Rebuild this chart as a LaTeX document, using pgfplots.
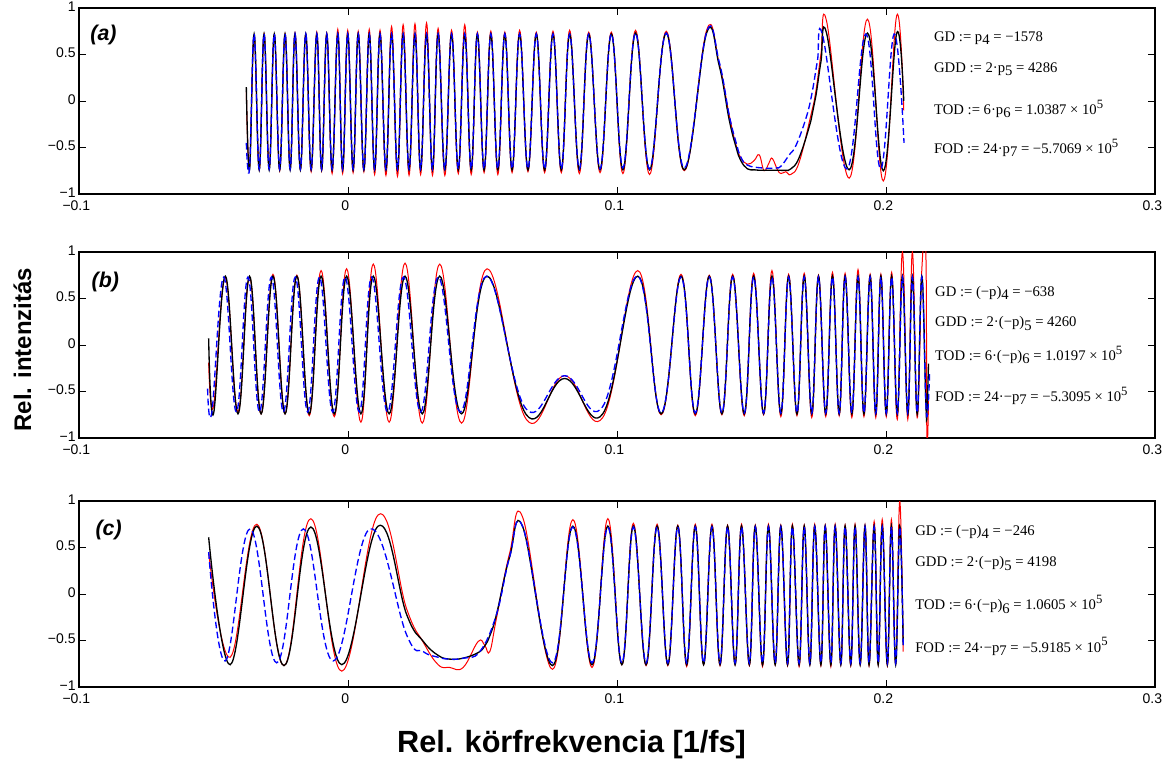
\documentclass[border=0pt]{standalone}
\usepackage{fontspec}
\setmainfont{Liberation Sans}
\newfontfamily\tnr{Liberation Serif}
\usepackage{pgfplots}
\pgfplotsset{compat=1.18}
\usepackage{pgfplotstable}

\newcommand\subx[1]{\raisebox{-0.5ex}{#1}}
\newcommand\supx[1]{\raisebox{0.95ex}{\fontsize{9.5}{10}\selectfont #1}}

% ---------- panel (a): black (k) and red (r) ----------
\pgfplotstableread{
x k r
-0.0378 0.15 0.10
-0.0366 -0.74 -0.72
-0.0349 0.72 0.70
-0.0330 -0.74 -0.74
-0.0312 0.72 0.72
-0.0293 -0.74 -0.72
-0.0274 0.72 0.71
-0.0254 -0.74 -0.75
-0.0234 0.72 0.72
-0.0215 -0.74 -0.73
-0.0197 0.72 0.73
-0.0177 -0.74 -0.74
-0.0157 0.72 0.72
-0.0137 -0.74 -0.76
-0.0116 0.72 0.74
-0.0098 -0.74 -0.75
-0.0079 0.72 0.73
-0.0059 -0.74 -0.78
-0.0038 0.72 0.77
-0.0020 -0.74 -0.78
-0.0001 0.72 0.76
0.0019 -0.74 -0.77
0.0038 0.72 0.75
0.0059 -0.74 -0.76
0.0079 0.72 0.77
0.0099 -0.74 -0.79
0.0119 0.72 0.76
0.0141 -0.74 -0.80
0.0162 0.72 0.80
0.0184 -0.74 -0.81
0.0205 0.72 0.82
0.0227 -0.74 -0.80
0.0249 0.72 0.83
0.0270 -0.74 -0.79
0.0292 0.72 0.84
0.0314 -0.74 -0.80
0.0335 0.72 0.78
0.0360 -0.74 -0.80
0.0385 0.72 0.76
0.0410 -0.74 -0.78
0.0434 0.72 0.82
0.0458 -0.74 -0.79
0.0481 0.72 0.74
0.0506 -0.74 -0.77
0.0531 0.72 0.75
0.0557 -0.74 -0.79
0.0583 0.72 0.74
0.0610 -0.74 -0.77
0.0638 0.72 0.76
0.0669 -0.74 -0.76
0.0700 0.72 0.74
0.0731 -0.74 -0.77
0.0762 0.72 0.75
0.0793 -0.74 -0.77
0.0824 0.72 0.76
0.0860 -0.74 -0.78
0.0895 0.72 0.74
0.0937 -0.74 -0.77
0.0979 0.72 0.74
0.1022 -0.74 -0.78
0.1069 0.73 0.76
0.1121 -0.74 -0.79
0.1183 0.73 0.75
0.1250 -0.74 -0.75
0.1333 0.73 0.76
0.1380 0.38 0.40
0.1417 -0.20 -0.15
0.1443 -0.50 -0.48
0.1460 -0.64 -0.61
0.1485 -0.73 -0.68
0.1510 -0.74 -0.64
0.1529 -0.745 -0.58
0.1547 -0.745 -0.75
0.1566 -0.745 -0.66
0.1578 -0.745 -0.62
0.1603 -0.745 -0.77
0.1628 -0.745 -0.76
0.1646 -0.73 -0.79
0.1677 -0.61 -0.66
0.1721 -0.21 -0.15
0.1739 0.05 0.10
0.1758 0.42 0.50
0.1779 0.73 0.86
0.1863 -0.74 -0.83
0.1931 0.73 0.88
0.1990 -0.75 -0.86
0.2040 0.73 0.92
0.2066 0.00 -0.10
}\tabA

\pgfplotstableread{
x y
-0.0378 -0.45
-0.0366 -0.72
-0.0349 0.72
-0.0330 -0.73
-0.0312 0.72
-0.0293 -0.73
-0.0274 0.72
-0.0254 -0.73
-0.0234 0.72
-0.0215 -0.73
-0.0197 0.72
-0.0177 -0.73
-0.0157 0.72
-0.0137 -0.73
-0.0116 0.72
-0.0098 -0.73
-0.0079 0.72
-0.0059 -0.73
-0.0038 0.72
-0.0020 -0.73
-0.0001 0.72
0.0019 -0.73
0.0038 0.72
0.0059 -0.73
0.0079 0.72
0.0099 -0.73
0.0119 0.72
0.0141 -0.73
0.0162 0.72
0.0184 -0.73
0.0205 0.72
0.0227 -0.73
0.0249 0.72
0.0270 -0.73
0.0292 0.72
0.0314 -0.73
0.0335 0.72
0.0360 -0.73
0.0385 0.72
0.0410 -0.73
0.0434 0.72
0.0458 -0.73
0.0481 0.72
0.0506 -0.73
0.0531 0.72
0.0557 -0.73
0.0583 0.72
0.0610 -0.73
0.0638 0.72
0.0669 -0.73
0.0700 0.72
0.0731 -0.73
0.0762 0.72
0.0793 -0.73
0.0824 0.72
0.0860 -0.73
0.0895 0.72
0.0937 -0.73
0.0979 0.72
0.1022 -0.72
0.1069 0.73
0.1121 -0.73
0.1183 0.73
0.1250 -0.72
0.1333 0.74
0.1380 0.42
0.1417 -0.15
0.1443 -0.45
0.1460 -0.60
0.1485 -0.69
0.1540 -0.72
0.1590 -0.72
0.1610 -0.70
0.1640 -0.58
0.1665 -0.48
0.1702 -0.19
0.1724 0.07
0.1745 0.43
0.1764 0.71
0.1854 -0.73
0.1925 0.72
0.1980 -0.73
0.2030 0.72
0.2067 -0.45
}\tabAb

% ---------- panel (b) ----------
\pgfplotstableread{
x k r
-0.0518 0.07 -0.19
-0.0500 -0.74 -0.66
-0.0456 0.74 0.72
-0.0409 -0.74 -0.72
-0.0366 0.74 0.73
-0.0323 -0.74 -0.74
-0.0279 0.74 0.76
-0.0234 -0.74 -0.74
-0.0190 0.74 0.75
-0.0144 -0.74 -0.76
-0.0100 0.74 0.80
-0.0051 -0.74 -0.77
-0.0005 0.74 0.82
0.0048 -0.74 -0.83
0.0094 0.74 0.87
0.0153 -0.74 -0.83
0.0212 0.74 0.88
0.0276 -0.74 -0.84
0.0341 0.74 0.87
0.0422 -0.74 -0.84
0.0517 0.74 0.82
0.0663 -0.75 -0.80
0.0805 -0.36 -0.33
0.0947 -0.74 -0.78
0.1077 0.74 0.80
0.1164 -0.74 -0.75
0.1238 0.74 0.76
0.1291 -0.74 -0.76
0.1343 0.74 0.75
0.1390 -0.74 -0.75
0.1430 0.74 0.76
0.1473 -0.74 -0.76
0.1508 0.74 0.77
0.1545 -0.74 -0.75
0.1576 0.74 0.80
0.1609 -0.74 -0.77
0.1638 0.74 0.76
0.1669 -0.74 -0.76
0.1696 0.74 0.77
0.1724 -0.74 -0.78
0.1749 0.74 0.75
0.1776 -0.74 -0.77
0.1801 0.74 0.78
0.1826 -0.74 -0.76
0.1848 0.74 0.77
0.1873 -0.74 -0.78
0.1896 0.74 0.81
0.1918 -0.74 -0.77
0.1941 0.74 0.76
0.1962 -0.74 -0.78
0.1981 0.74 0.76
0.2001 -0.74 -0.77
0.2021 0.74 0.78
0.2042 -0.74 -0.80
0.2061 0.74 1.00
0.2081 -0.74 -0.80
0.2098 0.74 1.00
0.2116 -0.74 -0.78
0.2133 0.74 0.80
0.2148 -0.60 1.00
0.2152 -0.74 -1.00
0.2158 -0.20 -0.60
}\tabB

\pgfplotstableread{
x y
-0.0522 -0.47
-0.0506 -0.72
-0.0462 0.73
-0.0415 -0.72
-0.0372 0.73
-0.0329 -0.72
-0.0285 0.73
-0.0240 -0.72
-0.0196 0.73
-0.0150 -0.72
-0.0106 0.73
-0.0057 -0.72
-0.0011 0.73
0.0042 -0.72
0.0088 0.73
0.0147 -0.72
0.0206 0.73
0.0270 -0.72
0.0336 0.73
0.0418 -0.72
0.0515 0.74
0.0660 -0.68
0.0805 -0.33
0.0945 -0.67
0.1076 0.74
0.1164 -0.73
0.1238 0.73
0.1291 -0.73
0.1343 0.73
0.1390 -0.73
0.1430 0.73
0.1473 -0.73
0.1508 0.73
0.1545 -0.73
0.1576 0.73
0.1609 -0.73
0.1638 0.73
0.1669 -0.73
0.1696 0.73
0.1724 -0.73
0.1749 0.73
0.1776 -0.73
0.1801 0.73
0.1826 -0.73
0.1848 0.73
0.1873 -0.73
0.1896 0.73
0.1918 -0.73
0.1941 0.73
0.1962 -0.73
0.1981 0.73
0.2001 -0.73
0.2021 0.73
0.2042 -0.73
0.2061 0.73
0.2081 -0.73
0.2098 0.73
0.2116 -0.73
0.2133 0.73
0.2150 -0.73
0.2162 -0.30
}\tabBb

% ---------- panel (c) ----------
\pgfplotstableread{
x k r
-0.0518 0.61 0.45
-0.0438 -0.76 -0.68
-0.0339 0.73 0.75
-0.0238 -0.77 -0.77
-0.0138 0.72 0.81
-0.0023 -0.76 -0.83
0.0112 0.73 0.85
0.0218 -0.22 -0.16
0.0280 -0.51 -0.52
0.0335 -0.66 -0.76
0.0378 -0.70 -0.79
0.0428 -0.69 -0.79
0.0484 -0.63 -0.51
0.0508 -0.56 -0.55
0.0527 -0.45 -0.62
0.0552 -0.22 -0.26
0.0601 0.40 0.44
0.0650 0.72 0.82
0.0760 -0.77 -0.81
0.0836 0.73 0.80
0.0907 -0.76 -0.79
0.0966 0.73 0.81
0.1018 -0.76 -0.76
0.1061 0.73 0.76
0.1108 -0.76 -0.77
0.1149 0.73 0.75
0.1189 -0.76 -0.77
0.1226 0.73 0.74
0.1259 -0.76 -0.78
0.1291 0.73 0.75
0.1322 -0.76 -0.76
0.1353 0.73 0.75
0.1383 -0.76 -0.77
0.1411 0.73 0.74
0.1439 -0.76 -0.76
0.1463 0.73 0.75
0.1492 -0.76 -0.77
0.1514 0.73 0.74
0.1541 -0.76 -0.78
0.1563 0.73 0.75
0.1588 -0.76 -0.76
0.1609 0.73 0.74
0.1634 -0.76 -0.77
0.1652 0.73 0.75
0.1677 -0.76 -0.78
0.1696 0.73 0.74
0.1717 -0.76 -0.76
0.1735 0.73 0.75
0.1758 -0.76 -0.77
0.1774 0.73 0.74
0.1795 -0.76 -0.78
0.1811 0.73 0.75
0.1832 -0.76 -0.76
0.1848 0.73 0.74
0.1869 -0.76 -0.77
0.1885 0.73 0.75
0.1904 -0.76 -0.76
0.1922 0.73 0.74
0.1937 -0.76 -0.77
0.1956 0.73 0.78
0.1971 -0.76 -0.76
0.1986 0.73 0.80
0.2005 -0.76 -0.77
0.2020 0.73 0.80
0.2036 -0.76 -0.75
0.2051 0.73 1.00
0.2064 -0.55 -0.62
}\tabC

\pgfplotstableread{
x y
-0.0518 0.45
-0.0456 -0.72
-0.0364 0.70
-0.0265 -0.74
-0.0166 0.70
-0.0055 -0.72
0.0082 0.70
0.0218 -0.44
0.0280 -0.62
0.0335 -0.68
0.0378 -0.70
0.0428 -0.69
0.0490 -0.62
0.0552 -0.22
0.0601 0.40
0.0650 0.72
0.0760 -0.74
0.0836 0.72
0.0907 -0.74
0.0966 0.72
0.1018 -0.74
0.1061 0.72
0.1108 -0.74
0.1149 0.72
0.1189 -0.74
0.1226 0.72
0.1259 -0.74
0.1291 0.72
0.1322 -0.74
0.1353 0.72
0.1383 -0.74
0.1411 0.72
0.1439 -0.74
0.1463 0.72
0.1492 -0.74
0.1514 0.72
0.1541 -0.74
0.1563 0.72
0.1588 -0.74
0.1609 0.72
0.1634 -0.74
0.1652 0.72
0.1677 -0.74
0.1696 0.72
0.1717 -0.74
0.1735 0.72
0.1758 -0.74
0.1774 0.72
0.1795 -0.74
0.1811 0.72
0.1832 -0.74
0.1848 0.72
0.1869 -0.74
0.1885 0.72
0.1904 -0.74
0.1922 0.72
0.1937 -0.74
0.1956 0.72
0.1971 -0.74
0.1986 0.72
0.2005 -0.74
0.2020 0.72
0.2036 -0.74
0.2051 0.72
0.2064 -0.55
}\tabCb

\pgfplotsset{
  panel/.style={
    scale only axis, width=807pt, height=139.5pt,
    anchor=south west,
    xmin=-0.1, xmax=0.3, ymin=-1, ymax=1,
    xtick={-0.1,0,0.1,0.2,0.3}, xticklabels={−0.1,0,0.1,0.2,0.3},
    ytick={-1,-0.5,0,0.5,1}, yticklabels={−1,−0.5,0,0.5,1},
    tick align=inside, major tick length=5pt,
    tick style={black, line width=0.6pt},
    tick label style={font=\fontsize{10.5}{11}\selectfont},
    xticklabel style={yshift=-1.5pt, xshift=-2pt},
    yticklabel style={xshift=1pt, yshift=1pt},
    axis line style={line width=0.8pt},
    clip mode=individual,
  },
  rline/.style={red, line width=0.75pt, smooth, tension=0.7},
  kline/.style={black, line width=1pt, smooth, tension=0.7},
  bline/.style={blue, line width=1pt, smooth, tension=0.7, dash pattern=on 5pt off 2.5pt},
}
\tikzset{
  ann/.style={anchor=west, font=\tnr\fontsize{11}{12}\selectfont, inner sep=0pt},
  plab/.style={font=\bfseries\itshape\fontsize{16}{18}\selectfont},
}

\begin{document}
\begin{tikzpicture}
\useasboundingbox (0,0) rectangle (881.25pt,581.25pt);

% (a)
\begin{axis}[panel, at={(59.25pt,435.75pt)}]
\addplot[rline] table[x=x,y=r]{\tabA};
\addplot[kline] table[x=x,y=k]{\tabA};
\addplot[bline] table[x=x,y=y]{\tabAb};
\node[plab] at (axis cs:-0.0909,0.71) {(a)};
\node[ann] at (axis cs:0.2178,0.677) {GD := p\subx{4} = −1578};
\node[ann] at (axis cs:0.2178,0.344) {GDD := 2·p\subx{5} = 4286};
\node[ann] at (axis cs:0.2178,-0.086) {TOD := 6·p\subx{6} = 1.0387 × 10\supx{5}};
\node[ann] at (axis cs:0.2178,-0.505) {FOD := 24·p\subx{7} = −5.7069 × 10\supx{5}};
\end{axis}

% (b)
\begin{axis}[panel, at={(59.25pt,252.75pt)}]
\addplot[rline] table[x=x,y=r]{\tabB};
\addplot[kline] table[x=x,y=k]{\tabB};
\addplot[bline] table[x=x,y=y]{\tabBb};
\node[plab] at (axis cs:-0.0902,0.68) {(b)};
\node[ann] at (axis cs:0.2182,0.562) {GD := (−p)\subx{4} = −638};
\node[ann] at (axis cs:0.2182,0.233) {GDD := 2·(−p)\subx{5} = 4260};
\node[ann] at (axis cs:0.2182,-0.108) {TOD := 6·(−p)\subx{6} = 1.0197 × 10\supx{5}};
\node[ann] at (axis cs:0.2182,-0.548) {FOD := 24·−p\subx{7} = −5.3095 × 10\supx{5}};
\node[rotate=90, font=\bfseries\fontsize{18}{20}\selectfont] at (axis cs:-0.121,-0.05) {Rel. intenzitás};
\end{axis}

% (c)
\begin{axis}[panel, at={(59.25pt,66pt)}]
\addplot[rline] table[x=x,y=r]{\tabC};
\addplot[kline] table[x=x,y=k]{\tabC};
\addplot[bline] table[x=x,y=y]{\tabCb};
\node[plab] at (axis cs:-0.089,0.69) {(c)};
\node[ann] at (axis cs:0.2108,0.670) {GD := (−p)\subx{4} = −246};
\node[ann] at (axis cs:0.2108,0.330) {GDD := 2·(−p)\subx{5} = 4198};
\node[ann] at (axis cs:0.2108,-0.111) {TOD := 6·(−p)\subx{6} = 1.0605 × 10\supx{5}};
\node[ann] at (axis cs:0.2108,-0.567) {FOD := 24·−p\subx{7} = −5.9185 × 10\supx{5}};
\node[font=\bfseries\fontsize{23}{25}\selectfont] at (axis cs:0.0831,-1.62) {Rel. körfrekvencia [1/fs]};
\end{axis}
\end{tikzpicture}
\end{document}
